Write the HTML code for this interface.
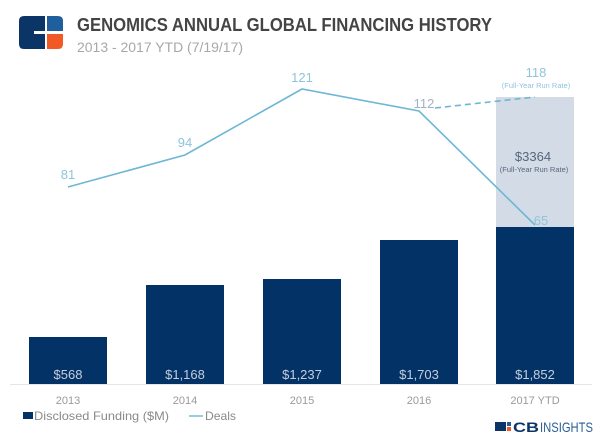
<!DOCTYPE html>
<html><head><meta charset="utf-8"><style>
html,body{margin:0;padding:0;background:#fff;}
svg{display:block;}
text{font-family:"Liberation Sans",sans-serif;}
</style></head><body>
<svg width="604" height="438" viewBox="0 0 604 438" xmlns="http://www.w3.org/2000/svg">
<rect width="604" height="438" fill="#fff"/>
<!-- logo -->
<path d="M24,16 H45 V31 H34 V34 H45 V49 H24 Q19,49 19,44 V21 Q19,16 24,16 Z" fill="#0c3567"/>
<path d="M47,16 H58 Q63,16 63,21 V31 H47 Z" fill="#1f5f9e"/>
<path d="M47,34 H63 V44 Q63,49 58,49 H47 Z" fill="#f15a24"/>
<text x="77" y="31" font-size="18" font-weight="bold" fill="#444" textLength="415" lengthAdjust="spacingAndGlyphs">GENOMICS ANNUAL GLOBAL FINANCING HISTORY</text>
<text x="77" y="52" font-size="13.5" fill="#a8a8a8" textLength="166" lengthAdjust="spacingAndGlyphs">2013 - 2017 YTD (7/19/17)</text>

<!-- run-rate box -->
<rect x="496" y="97" width="78" height="130" fill="#d3dbe6"/>
<!-- bars -->
<g fill="#033266">
<rect x="29" y="337" width="78" height="47"/>
<rect x="146" y="285" width="78" height="99"/>
<rect x="263" y="279" width="78" height="105"/>
<rect x="380" y="240" width="78" height="144"/>
<rect x="496" y="227" width="78" height="157"/>
</g>
<line x1="10" y1="384.5" x2="592" y2="384.5" stroke="#e6e6e6" stroke-width="1"/>
<g font-size="13" fill="#c5cedb" text-anchor="middle">
<text x="68" y="379">$568</text>
<text x="185" y="379">$1,168</text>
<text x="302" y="379">$1,237</text>
<text x="419" y="379">$1,703</text>
<text x="535" y="379">$1,852</text>
</g>
<g font-size="11" fill="#9a9a9a" text-anchor="middle">
<text x="68" y="404">2013</text>
<text x="185" y="404">2014</text>
<text x="302" y="404">2015</text>
<text x="419" y="404">2016</text>
<text x="535" y="404">2017 YTD</text>
</g>
<text x="533" y="161" font-size="13" fill="#55677d" text-anchor="middle">$3364</text>
<text x="534" y="172" font-size="7.5" fill="#55677d" text-anchor="middle">(Full-Year Run Rate)</text>

<!-- line -->
<polyline points="68,187 185,155 302,89 419,111 535,225" fill="none" stroke="#6db7d4" stroke-width="1.6"/>
<line x1="435" y1="108" x2="535" y2="97" stroke="#6db7d4" stroke-width="1.6" stroke-dasharray="6,4"/>
<g font-size="13" fill="#8fc4dc" text-anchor="middle">
<text x="68" y="179">81</text>
<text x="185" y="147">94</text>
<text x="302" y="82">121</text>
<text x="424" y="108" fill="#9fb3c6">112</text>
<text x="541" y="225">65</text>
<text x="536" y="77">118</text>
</g>
<text x="536" y="88" font-size="7.5" fill="#8fc4dc" text-anchor="middle">(Full-Year Run Rate)</text>

<!-- legend -->
<rect x="23" y="412" width="10" height="7" fill="#033266"/>
<text x="34" y="420" font-size="12" fill="#8a8a8a" textLength="135" lengthAdjust="spacingAndGlyphs">Disclosed Funding ($M)</text>
<line x1="189" y1="416" x2="203" y2="416" stroke="#6db7d4" stroke-width="1.4"/>
<text x="205" y="420" font-size="12" fill="#8a8a8a" textLength="31" lengthAdjust="spacingAndGlyphs">Deals</text>

<!-- CB insights logo -->
<rect x="495" y="422" width="11" height="9" fill="#0c3567"/>
<rect x="507" y="422" width="4" height="4" fill="#1f5f9e"/>
<rect x="507" y="427" width="4" height="4" fill="#f15a24"/>
<text x="513" y="432" font-size="14" font-weight="bold" fill="#0c3567" textLength="26" lengthAdjust="spacingAndGlyphs">CB</text>
<text x="540" y="432" font-size="14" fill="#2a5f95" textLength="53" lengthAdjust="spacingAndGlyphs">INSIGHTS</text>
</svg>
</body></html>
